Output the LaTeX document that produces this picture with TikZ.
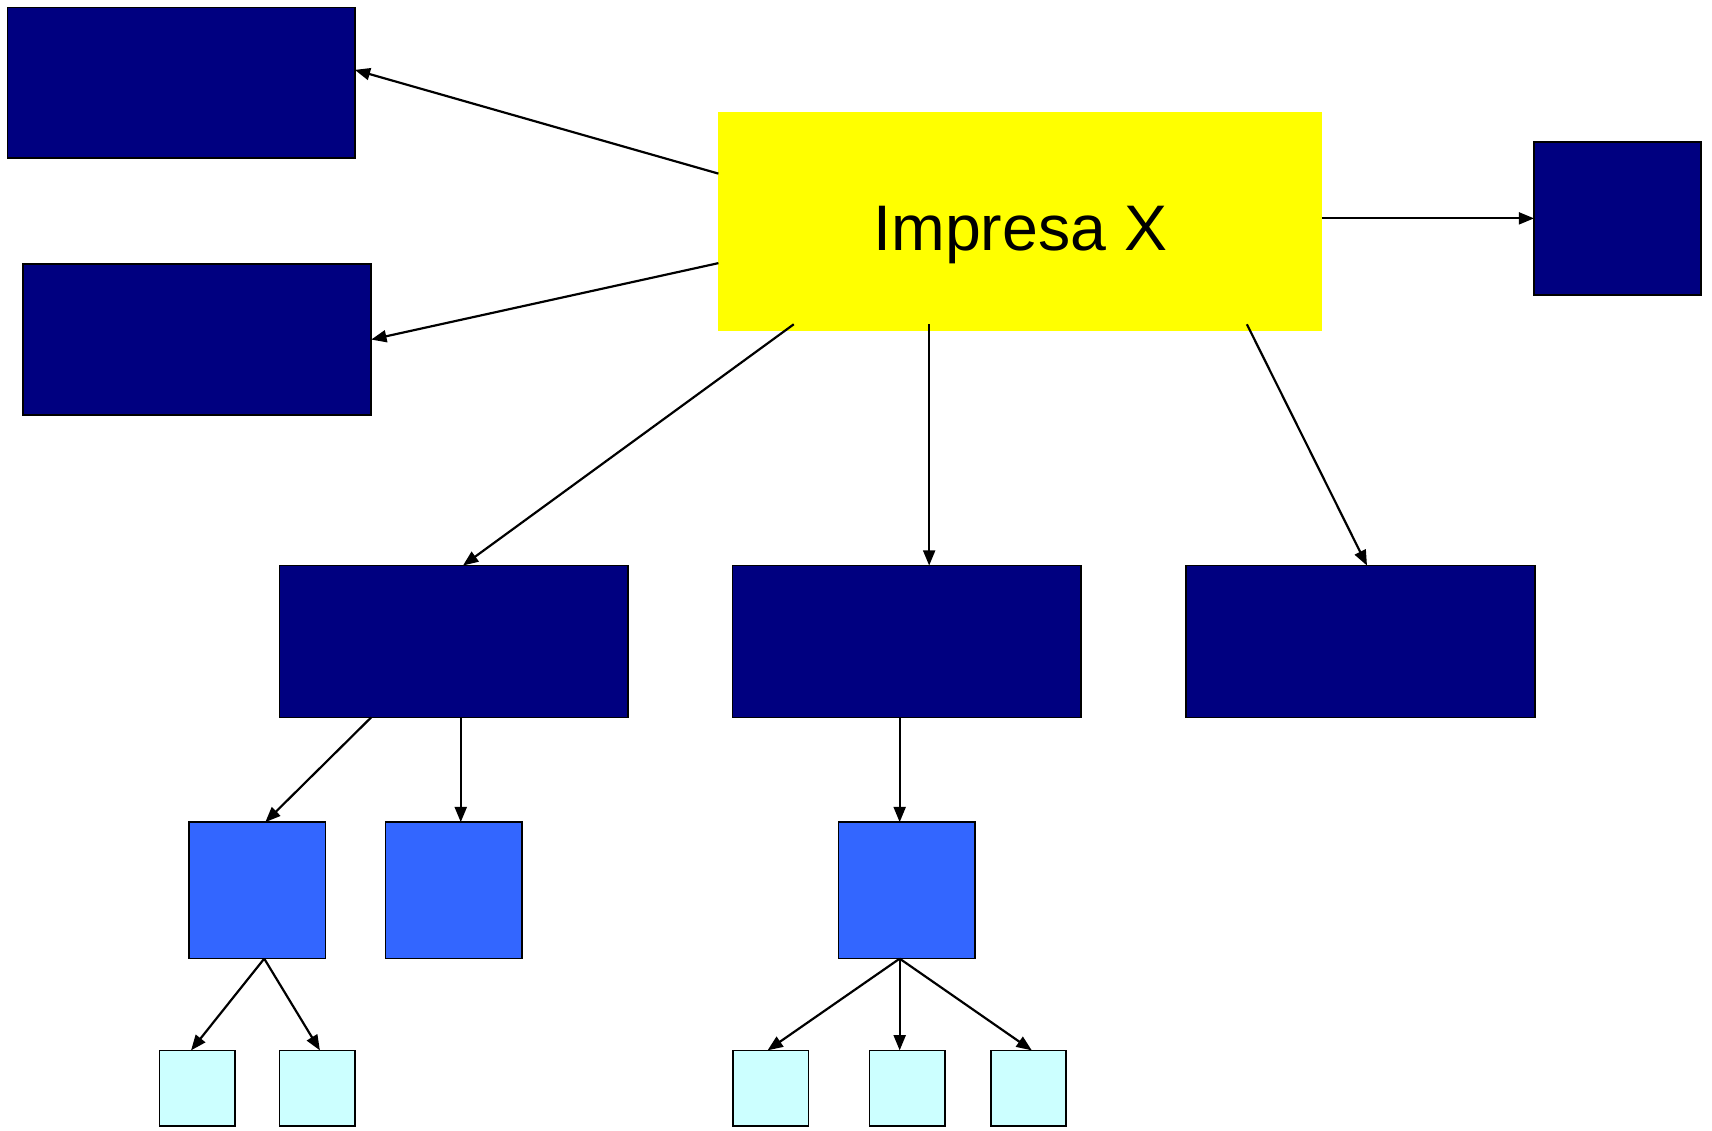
\documentclass[tikz,border=0pt]{standalone}
\usepackage{fontspec}
\setmainfont{Liberation Sans}
\usetikzlibrary{arrows.meta}
\definecolor{navyb}{RGB}{0,0,128}
\definecolor{midb}{RGB}{51,102,255}
\definecolor{lcyan}{RGB}{204,255,255}
\definecolor{yel}{RGB}{255,255,0}
\tikzset{
  box/.style={draw=black,line width=1.5pt,inner sep=0pt,outer sep=0pt},
  navybox/.style={box,fill=navyb},
  bluebox/.style={box,fill=midb,minimum width=125pt,minimum height=125pt},
  cyanbox/.style={box,fill=lcyan,minimum width=69pt,minimum height=69pt},
  conn/.style={line width=2pt,-{Triangle[length=14pt,width=11pt]}}
}
\begin{document}
\begin{tikzpicture}[x=1pt,y=-1pt]
\useasboundingbox (0,0) rectangle (1568,1035);
\node[fill=yel,inner sep=0pt,outer sep=0pt,minimum width=553pt,minimum height=200pt,text depth=0pt,text height=52pt,font=\fontsize{59}{70}\selectfont] (Y) at (934.5,203) {Impresa X};
\node[navybox,minimum width=318pt,minimum height=138pt] (TL) at (166,76) {};
\node[navybox,minimum width=319pt,minimum height=138pt] (L2) at (180.5,311) {};
\node[navybox,minimum width=153pt,minimum height=140pt] (R) at (1481.5,200) {};
\node[navybox,minimum width=319pt,minimum height=139pt] (A) at (415.5,587.5) {};
\node[navybox,minimum width=319pt,minimum height=139pt] (B) at (830.5,587.5) {};
\node[navybox,minimum width=320pt,minimum height=139pt] (C) at (1246,587.5) {};
\node[bluebox] (D) at (235.5,815.5) {};
\node[bluebox] (E) at (415.5,815.5) {};
\node[bluebox] (F) at (830.5,815.5) {};
\node[cyanbox] (c1) at (180.5,996.5) {};
\node[cyanbox] (c2) at (290.5,996.5) {};
\node[cyanbox] (c3) at (706,996.5) {};
\node[cyanbox] (c4) at (831,996.5) {};
\node[cyanbox] (c5) at (942,996.5) {};
\draw[conn] ([yshift=44pt]Y.west) -- ([yshift=12pt]TL.east);
\draw[conn] ([yshift=-38pt]Y.west) -- (L2.east);
\draw[conn] ([yshift=3pt]Y.east) -- (R.west);
\draw[conn] ([xshift=-207.5pt,yshift=6pt]Y.south) -- ([xshift=8.5pt]A.north);
\draw[conn] ([xshift=-83.5pt,yshift=6pt]Y.south) -- ([xshift=20.5pt]B.north);
\draw[conn] ([xshift=207.5pt,yshift=6pt]Y.south) -- ([xshift=6pt]C.north);
\draw[conn] ([xshift=-75.5pt]A.south) -- ([xshift=7.5pt]D.north);
\draw[conn] ([xshift=6.5pt]A.south) -- ([xshift=6.5pt]E.north);
\draw[conn] ([xshift=-6.5pt]B.south) -- ([xshift=-6.5pt]F.north);
\draw[conn] ([xshift=6.5pt]D.south) -- ([xshift=-5.5pt]c1.north);
\draw[conn] ([xshift=6.5pt]D.south) -- ([xshift=2.5pt]c2.north);
\draw[conn] ([xshift=-6.5pt]F.south) -- ([xshift=-3pt]c3.north);
\draw[conn] ([xshift=-6.5pt]F.south) -- ([xshift=-7pt]c4.north);
\draw[conn] ([xshift=-6.5pt]F.south) -- ([xshift=3pt]c5.north);
\end{tikzpicture}
\end{document}
